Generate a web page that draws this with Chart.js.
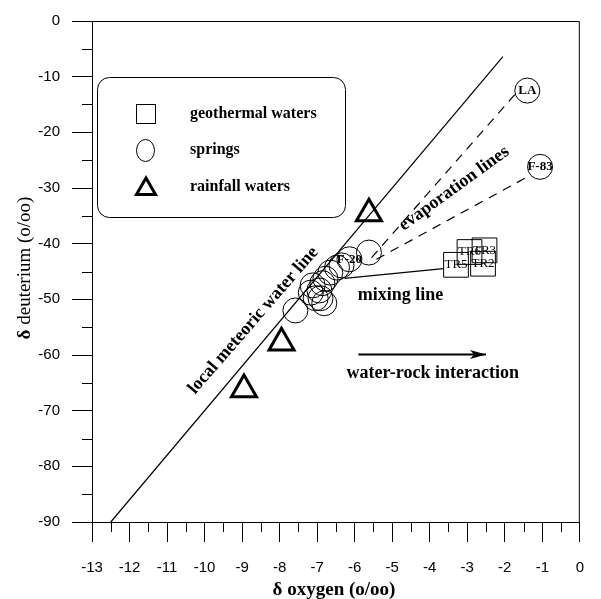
<!DOCTYPE html>
<html>
<head>
<meta charset="utf-8">
<script src="https://cdn.jsdelivr.net/npm/chart.js@4.4.1/dist/chart.umd.min.js"></script>
<style>
html, body { margin: 0; padding: 0; background: #fff; }
#wrap { width: 601px; height: 599px; }
</style>
</head>
<body>
<div id="wrap"><canvas id="chart"></canvas></div>
<script>
// --- data ---
const springX = [-7.58, -7.12, -7.17, -7.04, -6.91, -6.94, -6.81, -6.86, -6.78, -6.65, -6.47, -6.35, -6.14, -5.62, -1.40, -1.06];
const springY = [-52.0, -47.5, -48.8, -49.8, -49.8, -48.4, -50.7, -47.1, -46.3, -45.2, -44.3, -43.9, -42.8, -41.6, -12.5, -26.2];
const springLabels = ['', '', '', '', '', '', '', '', '', '', '', '', 'F-20', '', 'LA', 'F-83'];

const geoX = [-3.30, -2.94, -2.54, -2.58];
const geoY = [-43.8, -41.5, -41.2, -43.6];
const geoLabels = ['TR5', 'TR6', 'TR3', 'TR2'];

const rainX = [-8.95, -7.95, -5.62];
const rainY = [-66.2, -57.8, -34.6];

// lines
const lmwlX = [-12.5, -2.05];
const lmwlY = [-90, -6.4];
const evapAX = [-5.55, -1.72];
const evapAY = [-42.5, -13.1];
const evapBX = [-5.42, -1.34];
const evapBY = [-42.8, -27.8];
const mixX = [-6.27, -3.64];
const mixY = [-46.25, -44.5];
const arrowX = [-5.9, -2.5];
const arrowY = [-59.9, -59.9];

const xTicks = [-13, 0, 1];   // min, max, step
const yTicks = [-90, 0, 10];

const toPts = (xs, ys) => xs.map((x, i) => ({ x: x, y: ys[i] }));

// text written on the plot
const notes = [
    { text: 'local meteoric water line', x: -8.7, y: -53.8, rot: -49 },
    { text: 'evaporation lines', x: -3.35, y: -30.1, rot: -36 },
    { text: 'mixing line', x: -4.78, y: -49.3, rot: 0 },
    { text: 'water-rock interaction', x: -3.92, y: -63.3, rot: 0 }
];

const serif = '"Liberation Serif", "Times New Roman", serif';
const sans = '"Liberation Sans", Arial, sans-serif';

const lineSet = (xs, ys, dash) => ({
    type: 'line',
    data: toPts(xs, ys),
    borderColor: '#000',
    borderWidth: 1.2,
    borderDash: dash || [],
    pointRadius: 0,
    fill: false
});

const extras = {
    id: 'extras',
    afterDraw(chart) {
        const ctx = chart.ctx;
        const a = chart.chartArea;
        const xs = chart.scales.x, ys = chart.scales.y;
        ctx.save();
        ctx.strokeStyle = '#000';
        ctx.fillStyle = '#000';
        ctx.lineWidth = 1;

        // frame top / right
        ctx.beginPath();
        ctx.moveTo(a.left, a.top + 0.5);
        ctx.lineTo(a.right - 0.5, a.top + 0.5);
        ctx.lineTo(a.right - 0.5, a.bottom);
        ctx.stroke();

        // minor ticks
        ctx.beginPath();
        for (let v = xTicks[0] + 0.5; v < xTicks[1]; v += 1) {
            const px = Math.round(xs.getPixelForValue(v)) + 0.5;
            ctx.moveTo(px, a.bottom);
            ctx.lineTo(px, a.bottom + 10);
        }
        for (let v = yTicks[0] + 5; v < yTicks[1]; v += 10) {
            const py = Math.round(ys.getPixelForValue(v)) + 0.5;
            ctx.moveTo(a.left, py);
            ctx.lineTo(a.left - 10, py);
        }
        ctx.stroke();

        // arrow head
        const hx = xs.getPixelForValue(arrowX[1]);
        const hy = ys.getPixelForValue(arrowY[1]);
        ctx.beginPath();
        ctx.moveTo(hx, hy);
        ctx.lineTo(hx - 16, hy - 4.5);
        ctx.lineTo(hx - 12, hy);
        ctx.lineTo(hx - 16, hy + 4.5);
        ctx.closePath();
        ctx.fill();

        // point labels
        ctx.textAlign = 'center';
        ctx.textBaseline = 'middle';
        ctx.font = 'bold 13px ' + serif;
        springLabels.forEach((t, i) => {
            if (!t) return;
            ctx.fillText(t, xs.getPixelForValue(springX[i]), ys.getPixelForValue(springY[i]));
        });
        ctx.font = '13px ' + serif;
        geoLabels.forEach((t, i) => {
            ctx.fillText(t, xs.getPixelForValue(geoX[i]), ys.getPixelForValue(geoY[i]));
        });

        // notes
        ctx.font = 'bold 18px ' + serif;
        notes.forEach(n => {
            ctx.save();
            ctx.translate(xs.getPixelForValue(n.x), ys.getPixelForValue(n.y));
            ctx.rotate(n.rot * Math.PI / 180);
            ctx.fillText(n.text, 0, 0);
            ctx.restore();
        });

        // axis titles
        ctx.font = 'bold 19px ' + serif;
        ctx.fillText('δ oxygen (o/oo)', 334, 590);
        ctx.save();
        ctx.translate(25, 268);
        ctx.rotate(-Math.PI / 2);
        ctx.textAlign = 'left';
        const d = 'δ', rest = ' deuterium (o/oo)';
        ctx.font = 'bold 19px ' + serif;
        const wd = ctx.measureText(d).width;
        ctx.font = '19px ' + serif;
        const wr = ctx.measureText(rest).width;
        const sx = -(wd + wr) / 2;
        ctx.font = 'bold 19px ' + serif;
        ctx.fillText(d, sx, 0);
        ctx.font = '19px ' + serif;
        ctx.fillText(rest, sx + wd, 0);
        ctx.restore();

        // legend box
        ctx.lineWidth = 1;
        ctx.beginPath();
        ctx.roundRect(97.5, 77.5, 248, 140, 12);
        ctx.stroke();
        const items = ['geothermal waters', 'springs', 'rainfall waters'];
        const rows = [114, 150, 187];
        ctx.strokeRect(136.5, 104.5, 19, 19);
        ctx.beginPath();
        ctx.ellipse(145.5, 150.5, 9, 11, 0, 0, Math.PI * 2);
        ctx.stroke();
        ctx.lineWidth = 3;
        ctx.beginPath();
        ctx.moveTo(146, 178);
        ctx.lineTo(155.5, 194.5);
        ctx.lineTo(136.5, 194.5);
        ctx.closePath();
        ctx.stroke();
        ctx.textAlign = 'left';
        ctx.font = 'bold 16px ' + serif;
        items.forEach((t, i) => ctx.fillText(t, 190, rows[i]));
        ctx.restore();
    }
};

new Chart(document.getElementById('chart'), {
    type: 'scatter',
    data: {
        datasets: [
            lineSet(lmwlX, lmwlY),
            lineSet(evapAX, evapAY, [9, 7]),
            lineSet(evapBX, evapBY, [9, 7]),
            lineSet(mixX, mixY),
            Object.assign(lineSet(arrowX, arrowY), { borderWidth: 2 }),
            {
                label: 'springs',
                data: toPts(springX, springY),
                pointStyle: 'circle',
                pointRadius: 12.5,
                borderColor: '#000',
                borderWidth: 1,
                backgroundColor: 'rgba(0,0,0,0)'
            },
            {
                label: 'geothermal waters',
                data: toPts(geoX, geoY),
                pointStyle: 'rect',
                pointRadius: 17.5,
                borderColor: '#000',
                borderWidth: 1,
                backgroundColor: 'rgba(0,0,0,0)'
            },
            {
                label: 'rainfall waters',
                data: toPts(rainX, rainY),
                pointStyle: 'triangle',
                pointRadius: 14.4,
                borderColor: '#000',
                borderWidth: 3,
                backgroundColor: 'rgba(0,0,0,0)'
            }
        ]
    },
    options: {
        responsive: true,
        maintainAspectRatio: false,
        animation: false,
        events: [],
        clip: false,
        layout: { padding: { top: 20, right: 9, left: 0, bottom: 0 } },
        plugins: { legend: { display: false }, tooltip: { enabled: false } },
        scales: {
            x: {
                type: 'linear',
                min: xTicks[0], max: xTicks[1],
                ticks: { stepSize: xTicks[2], color: '#000', padding: 17, font: { family: sans, size: 15 }, maxRotation: 0 },
                grid: { drawOnChartArea: false, tickLength: 20, color: '#000' },
                border: { display: true, color: '#000', width: 1 },
                afterFit: s => { s.height = 77; }
            },
            y: {
                type: 'linear',
                min: yTicks[0], max: yTicks[1],
                ticks: { stepSize: yTicks[2], color: '#000', padding: 12, font: { family: sans, size: 15 } },
                grid: { drawOnChartArea: false, tickLength: 20, color: '#000' },
                border: { display: true, color: '#000', width: 1 },
                afterFit: s => { s.width = 92; }
            }
        }
    },
    plugins: [extras]
});
</script>
</body>
</html>
